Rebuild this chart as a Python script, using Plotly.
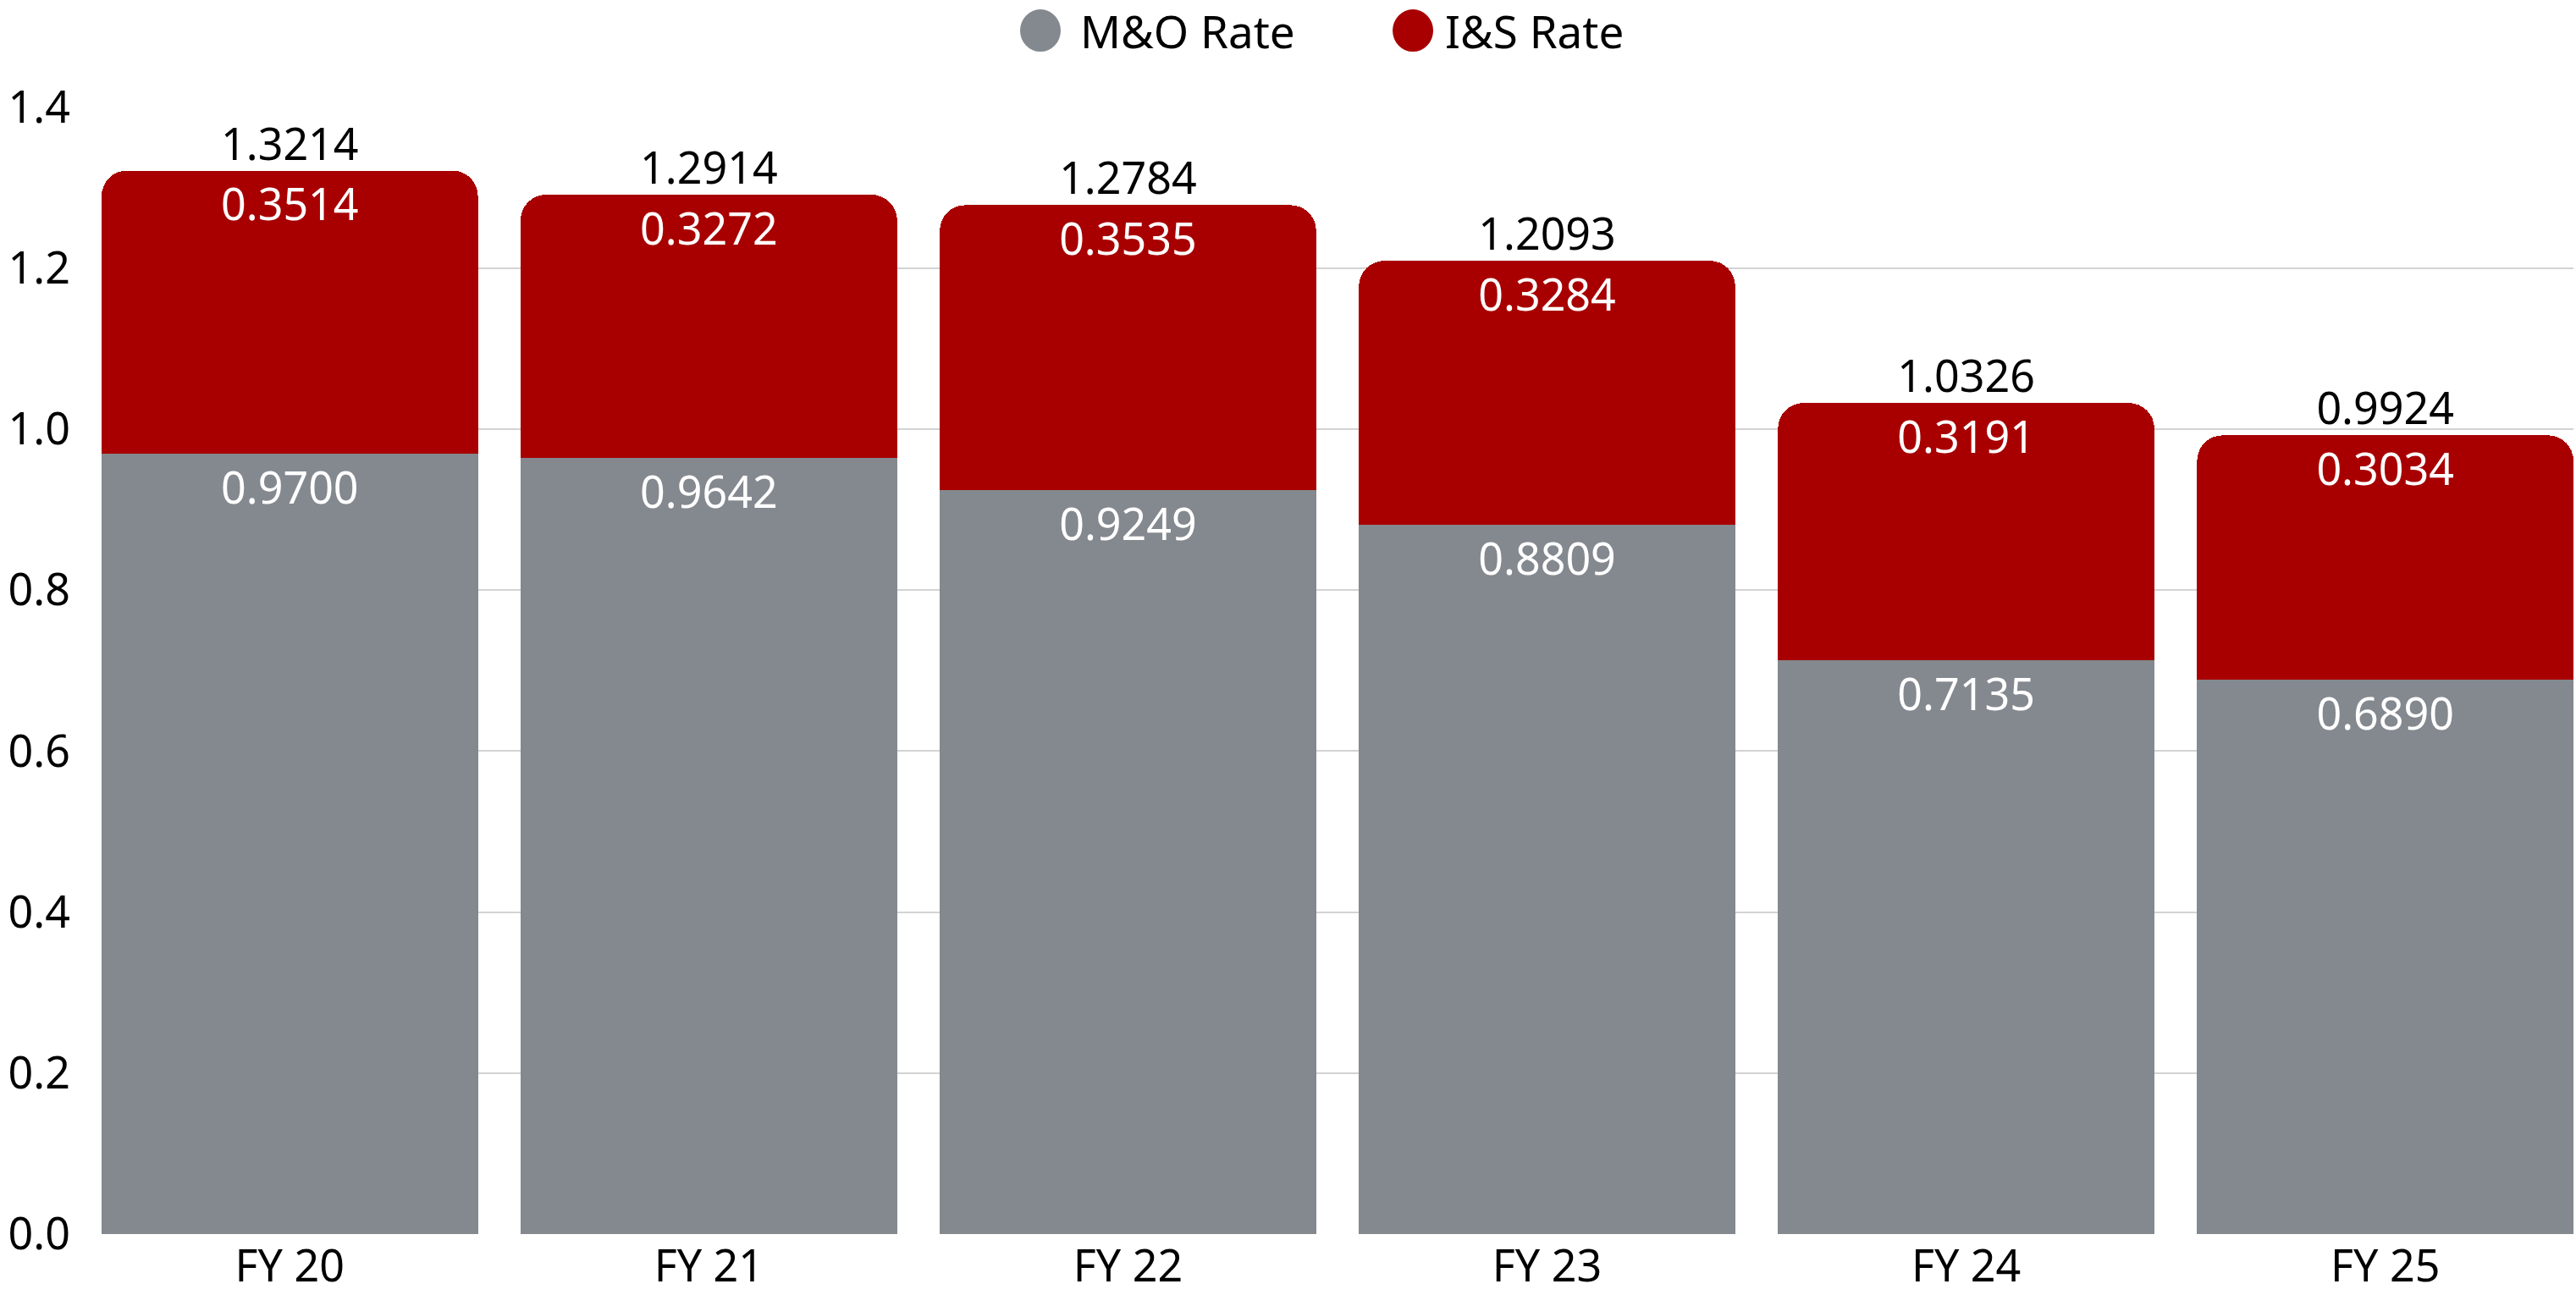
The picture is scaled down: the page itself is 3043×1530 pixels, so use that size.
import plotly.graph_objects as go

# Tax rate components by fiscal year
years = ["FY 20", "FY 21", "FY 22", "FY 23", "FY 24", "FY 25"]
mo_rate = [0.9700, 0.9642, 0.9249, 0.8809, 0.7135, 0.6890]
is_rate = [0.3514, 0.3272, 0.3535, 0.3284, 0.3191, 0.3034]
total_rate = [1.3214, 1.2914, 1.2784, 1.2093, 1.0326, 0.9924]
y_ticks = [0.0, 0.2, 0.4, 0.6, 0.8, 1.0, 1.2, 1.4]

GRAY = "#84888F"
RED = "#A80000"
FONT = "Noto Sans"
FS = 52

fig = go.Figure()

fig.add_trace(go.Bar(
    x=years, y=mo_rate, name="M&O Rate",
    marker=dict(color=GRAY, line=dict(width=0)),
    text=[f"{v:.4f}" for v in mo_rate],
    textposition="inside", insidetextanchor="end",
    textfont=dict(color="white", size=FS, family=FONT),
    constraintext="none", showlegend=False,
))
fig.add_trace(go.Bar(
    x=years, y=is_rate, name="I&S Rate",
    marker=dict(color=RED, line=dict(width=0)),
    textposition="none", showlegend=False,
))
# I&S values just under the top of each stack (transparent marker sets the offset)
fig.add_trace(go.Scatter(
    x=years, y=[m + i for m, i in zip(mo_rate, is_rate)], mode="markers+text",
    marker=dict(size=30, color="rgba(0,0,0,0)"),
    text=[f"{v:.4f}" for v in is_rate],
    textposition="bottom center",
    textfont=dict(color="white", size=FS, family=FONT),
    cliponaxis=False, showlegend=False, hoverinfo="skip",
))
# Totals above each stack
fig.add_trace(go.Scatter(
    x=years, y=total_rate, mode="text",
    text=[f"{v:.4f}" for v in total_rate],
    textposition="top center",
    textfont=dict(color="black", size=FS, family=FONT),
    cliponaxis=False, showlegend=False, hoverinfo="skip",
))

# Legend drawn as circles + labels across the top
LEG_Y = 1.0675
legend_items = [("M&O Rate", GRAY, 0.3798, 0.3955), ("I&S Rate", RED, 0.5305, 0.5432)]
shapes, annotations = [], []
for label, color, cx, tx in legend_items:
    shapes.append(dict(
        type="circle", xref="paper", yref="paper",
        xsizemode="pixel", ysizemode="pixel",
        xanchor=cx, yanchor=LEG_Y,
        x0=-24, x1=24, y0=-25, y1=25,
        fillcolor=color, line=dict(width=0),
    ))
    annotations.append(dict(
        text=label, xref="paper", yref="paper", x=tx, y=LEG_Y,
        xanchor="left", yanchor="middle", showarrow=False, borderpad=0,
        font=dict(color="black", size=FS + 1, family=FONT),
    ))

fig.update_layout(
    width=3043, height=1530,
    margin=dict(l=120, r=3, t=126, b=72, autoexpand=False),
    paper_bgcolor="white", plot_bgcolor="white",
    barmode="stack", bargap=0.102, barcornerradius=30,
    font=dict(family=FONT, size=FS, color="black"),
    shapes=shapes, annotations=annotations,
    xaxis=dict(
        type="category", range=[-0.449, 5.449], automargin=False,
        showgrid=False, showline=False, ticks="",
        tickfont=dict(size=FS, family=FONT, color="black"),
        ticklabelstandoff=3,
    ),
    yaxis=dict(
        range=[0, 1.4008], tickvals=y_ticks, automargin=False,
        ticktext=[f"{v:.1f}" for v in y_ticks],
        showgrid=True, gridcolor="#D3D3D3", gridwidth=2,
        zeroline=False, showline=False, ticks="",
        tickfont=dict(size=FS, family=FONT, color="black"),
        ticklabelstandoff=36,
    ),
)

fig.write_html("out.html")
